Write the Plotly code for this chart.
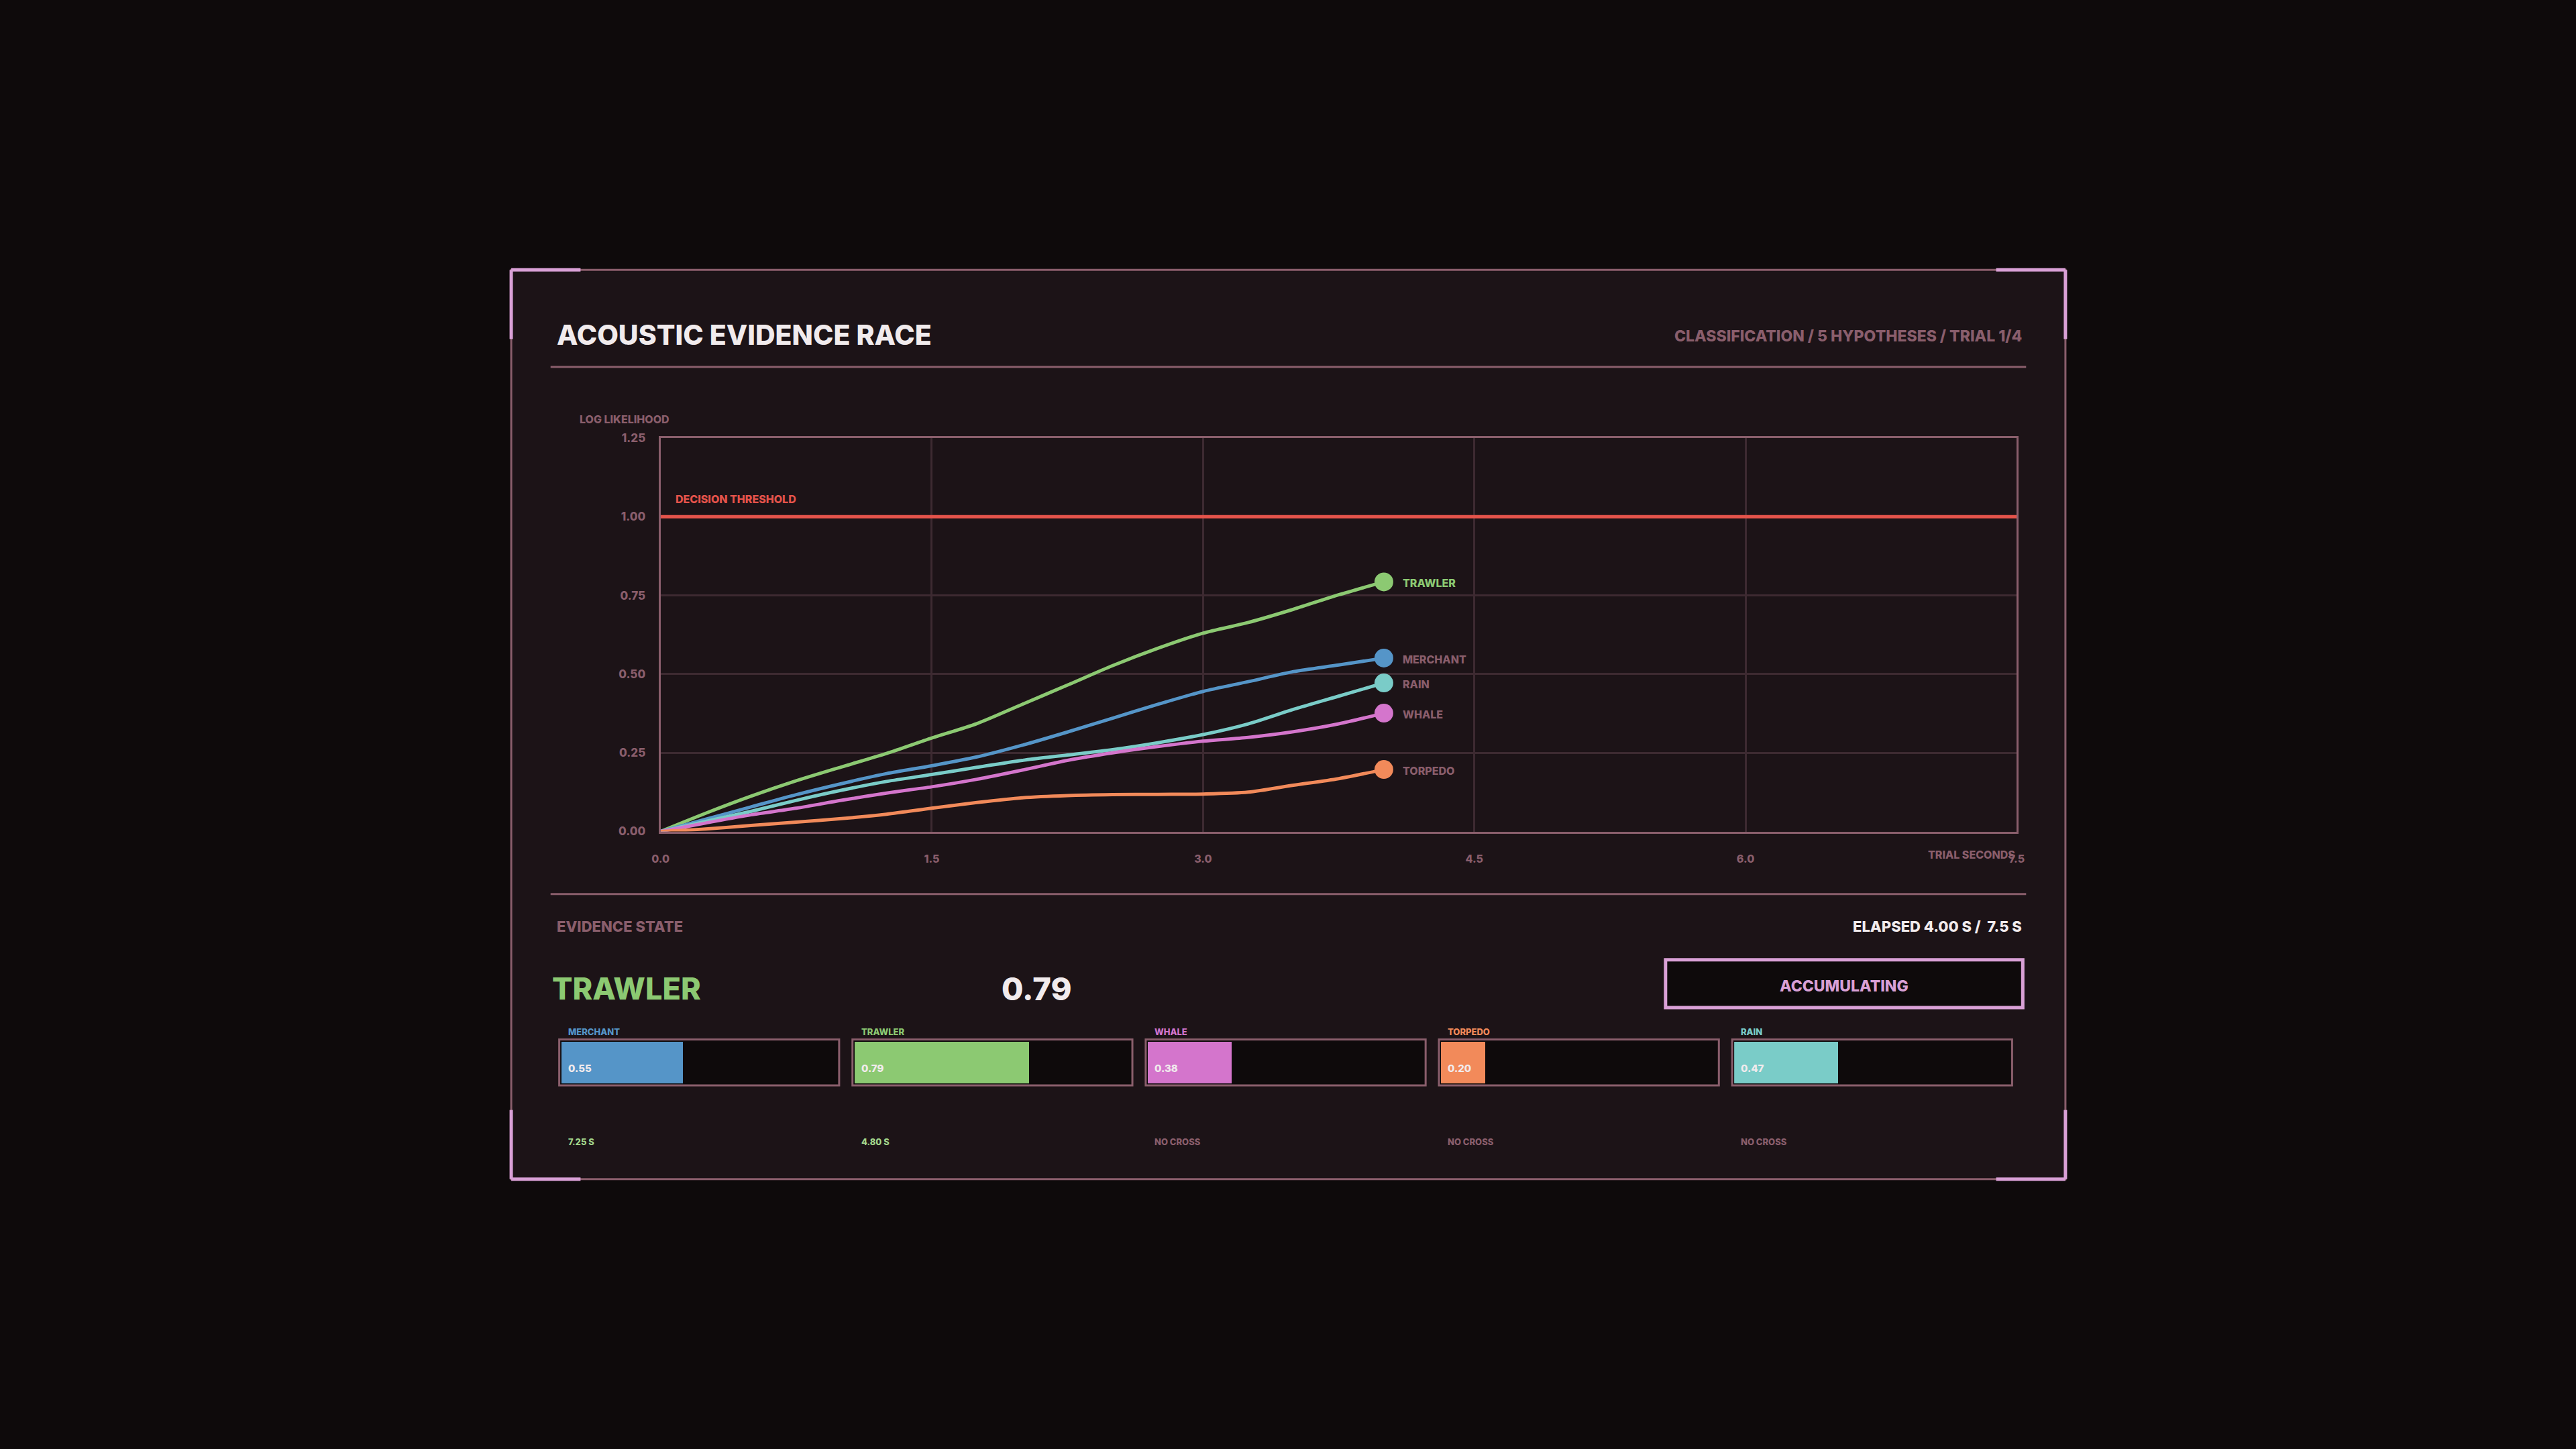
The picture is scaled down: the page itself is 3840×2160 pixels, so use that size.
import plotly.graph_objects as go

# ---------------- data ----------------
TIME = [0.0, 0.25, 0.5, 0.75, 1.0, 1.25, 1.5, 1.75, 2.0, 2.25, 2.5, 2.75, 3.0, 3.25, 3.5, 3.75, 4.0]
TRAWLER = [0, 0.058, 0.112, 0.161, 0.205, 0.248, 0.297, 0.343, 0.404, 0.465, 0.527, 0.582, 0.630, 0.664, 0.706, 0.752, 0.793]
MERCHANT = [0, 0.039, 0.078, 0.117, 0.152, 0.184, 0.209, 0.237, 0.274, 0.316, 0.360, 0.404, 0.445, 0.476, 0.508, 0.529, 0.551]
RAIN = [0, 0.032, 0.064, 0.099, 0.131, 0.159, 0.181, 0.204, 0.226, 0.243, 0.260, 0.282, 0.308, 0.342, 0.388, 0.430, 0.472]
WHALE = [0, 0.027, 0.053, 0.074, 0.099, 0.122, 0.142, 0.166, 0.195, 0.226, 0.250, 0.270, 0.287, 0.299, 0.317, 0.342, 0.376]
TORPEDO = [0, 0.008, 0.019, 0.030, 0.041, 0.055, 0.074, 0.092, 0.107, 0.114, 0.117, 0.118, 0.119, 0.125, 0.147, 0.168, 0.197]

SERIES_NAMES = ["TRAWLER", "MERCHANT", "RAIN", "WHALE", "TORPEDO"]
SERIES_VALUES = [TRAWLER, MERCHANT, RAIN, WHALE, TORPEDO]

THRESHOLD = 1.0
X_MAX = 7.5
Y_MAX = 1.25
X_TICKS = [0.0, 1.5, 3.0, 4.5, 6.0, 7.5]
Y_TICKS = [0.0, 0.25, 0.5, 0.75, 1.0, 1.25]

METER_NAMES = ["MERCHANT", "TRAWLER", "WHALE", "TORPEDO", "RAIN"]
METER_VALUES = [0.55, 0.79, 0.38, 0.20, 0.47]
METER_CROSS = ["7.25 S", "4.80 S", "NO CROSS", "NO CROSS", "NO CROSS"]

LEADER = "TRAWLER"
LEADER_VALUE = 0.79
ELAPSED = 4.00
TOTAL = 7.5
STATUS = "ACCUMULATING"
TITLE = "ACOUSTIC EVIDENCE RACE"
SUBTITLE = "CLASSIFICATION / 5 HYPOTHESES / TRIAL 1/4"

# ---------------- style ----------------
W, H = 3840, 2160
BG = "#0e0a0b"
PANEL = "#1c1317"
MAUVE = "#8a5e6c"
GRID = "#3d2a31"
PINK = "#d9a0d6"
WHITE = "#f1ebed"
RED = "#e5534b"
COLORS = {
    "TRAWLER": "#8cc972",
    "MERCHANT": "#5595c8",
    "RAIN": "#7accc8",
    "WHALE": "#d475cc",
    "TORPEDO": "#f28a5a",
}
FONT = "Inter"


def px(x):
    return x / W


def py(y):
    return 1 - y / H


# plot area in pixels
PL, PR, PT, PB = 978, 3013, 649, 1241

fig = go.Figure()

for name, vals in zip(SERIES_NAMES, SERIES_VALUES):
    fig.add_trace(go.Scatter(
        x=TIME, y=vals, mode="lines",
        line=dict(color=COLORS[name], width=5, shape="spline", smoothing=0.8),
        showlegend=False, hoverinfo="skip", xaxis="x", yaxis="y",
    ))
    fig.add_trace(go.Scatter(
        x=[TIME[-1]], y=[vals[-1]], mode="markers",
        marker=dict(color=COLORS[name], size=28),
        showlegend=False, hoverinfo="skip", xaxis="x", yaxis="y",
    ))

annotations = []
shapes = []

# end labels
for name, vals in zip(SERIES_NAMES, SERIES_VALUES):
    annotations.append(dict(
        x=TIME[-1], y=vals[-1], xref="x", yref="y", text=name, showarrow=False,
        xanchor="left", yanchor="middle", xshift=26, yshift=-2,
        font=dict(family=FONT, size=16, weight=800,
                  color=COLORS[name] if name == LEADER else MAUVE),
    ))

# threshold
shapes.append(dict(type="line", xref="x", yref="y", x0=0, x1=X_MAX, y0=THRESHOLD, y1=THRESHOLD,
                   line=dict(color=RED, width=5), layer="above"))
annotations.append(dict(x=0, y=THRESHOLD, xref="x", yref="y", text="DECISION THRESHOLD",
                        showarrow=False, xanchor="left", yanchor="middle", xshift=20, yshift=26,
                        font=dict(family=FONT, size=16, weight=800, color=RED)))

# panel
P_L, P_R, P_T, P_B = 754, 3086, 396, 1764
shapes.append(dict(type="rect", xref="paper", yref="paper", x0=px(P_L), x1=px(P_R), y0=py(P_B), y1=py(P_T),
                   fillcolor=PANEL, line=dict(color=MAUVE, width=3), layer="below"))
acc = 104
corner_lines = [
    (P_L, P_T, P_L + acc, P_T), (P_L, P_T, P_L, P_T + acc),
    (P_R - acc, P_T, P_R, P_T), (P_R, P_T, P_R, P_T + acc),
    (P_L, P_B, P_L + acc, P_B), (P_L, P_B - acc, P_L, P_B),
    (P_R - acc, P_B, P_R, P_B), (P_R, P_B - acc, P_R, P_B),
]
for x0, y0, x1, y1 in corner_lines:
    shapes.append(dict(type="line", xref="paper", yref="paper", x0=px(x0), y0=py(y0), x1=px(x1), y1=py(y1),
                       line=dict(color=PINK, width=5), layer="above"))

# separators
for yy in (542, 1335):
    shapes.append(dict(type="line", xref="paper", yref="paper", x0=px(813), x1=px(3027), y0=py(yy), y1=py(yy),
                       line=dict(color=MAUVE, width=3), layer="below"))

# header text
annotations.append(dict(x=px(820), y=py(494), xref="paper", yref="paper", text=TITLE, showarrow=False,
                        xanchor="left", yanchor="middle",
                        font=dict(family=FONT, size=41, weight=800, color=WHITE)))
annotations.append(dict(x=px(3023), y=py(496), xref="paper", yref="paper", text=SUBTITLE, showarrow=False,
                        xanchor="right", yanchor="middle",
                        font=dict(family=FONT, size=23, weight=800, color=MAUVE)))
annotations.append(dict(x=px(855), y=py(621), xref="paper", yref="paper", text="LOG LIKELIHOOD", showarrow=False,
                        xanchor="left", yanchor="middle",
                        font=dict(family=FONT, size=16, weight=800, color=MAUVE)))
annotations.append(dict(x=px(PR), y=py(1276), xref="paper", yref="paper", text="TRIAL SECONDS", showarrow=False,
                        xanchor="right", yanchor="middle",
                        font=dict(family=FONT, size=16, weight=800, color=MAUVE)))

# evidence state section
annotations.append(dict(x=px(820), y=py(1384), xref="paper", yref="paper", text="EVIDENCE STATE", showarrow=False,
                        xanchor="left", yanchor="middle",
                        font=dict(family=FONT, size=22, weight=800, color=MAUVE)))
annotations.append(dict(x=px(3023), y=py(1384), xref="paper", yref="paper",
                        text=f"ELAPSED {ELAPSED:.2f} S /\u00a0\u00a0{TOTAL} S", showarrow=False,
                        xanchor="right", yanchor="middle",
                        font=dict(family=FONT, size=22, weight=800, color=WHITE)))
annotations.append(dict(x=px(813), y=py(1477), xref="paper", yref="paper", text=LEADER, showarrow=False,
                        xanchor="left", yanchor="middle",
                        font=dict(family=FONT, size=45, weight=800, color=COLORS[LEADER])))
annotations.append(dict(x=px(1488), y=py(1477), xref="paper", yref="paper", text=f"{LEADER_VALUE:.2f}",
                        showarrow=False, xanchor="left", yanchor="middle",
                        font=dict(family=FONT, size=47, weight=800, color=WHITE)))
shapes.append(dict(type="rect", xref="paper", yref="paper", x0=px(2486), x1=px(3022), y0=py(1506), y1=py(1434),
                   fillcolor=BG, line=dict(color=PINK, width=5), layer="below"))
annotations.append(dict(x=px(2754), y=py(1474), xref="paper", yref="paper", text=STATUS, showarrow=False,
                        xanchor="center", yanchor="middle",
                        font=dict(family=FONT, size=23, weight=800, color=PINK)))

# meters
layout_axes = {}
BOX_W, PITCH, BOX_L0 = 420, 440, 826
BOX_T, BOX_B = 1554, 1623
for i, (name, val, cross) in enumerate(zip(METER_NAMES, METER_VALUES, METER_CROSS)):
    bl = BOX_L0 + i * PITCH
    br = bl + BOX_W
    shapes.append(dict(type="rect", xref="paper", yref="paper", x0=px(bl), x1=px(br), y0=py(BOX_B), y1=py(BOX_T),
                       fillcolor=BG, line=dict(color=MAUVE, width=3), layer="below"))
    n = i + 2
    xa, ya = f"x{n}", f"y{n}"
    layout_axes[f"xaxis{n}"] = dict(domain=[px(bl + 3), px(br - 3)], range=[0, Y_MAX], visible=False,
                                    fixedrange=True, anchor=ya)
    layout_axes[f"yaxis{n}"] = dict(domain=[py(BOX_B - 3), py(BOX_T + 3)], range=[-0.5, 0.5], visible=False,
                                    fixedrange=True, anchor=xa)
    fig.add_trace(go.Bar(x=[val], y=[0], orientation="h", width=1, base=0,
                         marker=dict(color=COLORS[name], line=dict(width=0)),
                         showlegend=False, hoverinfo="skip", xaxis=xa, yaxis=ya))
    annotations.append(dict(x=px(bl + 11), y=py(1542), xref="paper", yref="paper", text=name, showarrow=False,
                            xanchor="left", yanchor="middle",
                            font=dict(family=FONT, size=13, weight=800, color=COLORS[name])))
    annotations.append(dict(x=px(bl + 11), y=py(1597), xref="paper", yref="paper", text=f"{val:.2f}",
                            showarrow=False, xanchor="left", yanchor="middle",
                            font=dict(family=FONT, size=15, weight=800, color=WHITE)))
    annotations.append(dict(x=px(bl + 11), y=py(1708), xref="paper", yref="paper", text=cross, showarrow=False,
                            xanchor="left", yanchor="middle",
                            font=dict(family=FONT, size=13, weight=800,
                                      color="#a3d68b" if cross != "NO CROSS" else MAUVE)))

fig.update_layout(
    width=W, height=H, margin=dict(l=0, r=0, t=0, b=0),
    paper_bgcolor=BG, plot_bgcolor="rgba(0,0,0,0)",
    font=dict(family=FONT, color=MAUVE),
    xaxis=dict(domain=[px(PL), px(PR)], range=[0, X_MAX], tickvals=X_TICKS, tickformat=".1f",
               showgrid=True, gridcolor=GRID, gridwidth=3, zeroline=False,
               showline=True, linecolor=MAUVE, linewidth=3, mirror=True,
               ticks="outside", ticklen=24, tickcolor="rgba(0,0,0,0)",
               tickfont=dict(family=FONT, size=16, weight=800, color=MAUVE), anchor="y", fixedrange=True),
    yaxis=dict(domain=[py(PB), py(PT)], range=[0, Y_MAX], tickvals=Y_TICKS, tickformat=".2f",
               showgrid=True, gridcolor=GRID, gridwidth=3, zeroline=False,
               showline=True, linecolor=MAUVE, linewidth=3, mirror=True,
               ticks="outside", ticklen=16, tickcolor="rgba(0,0,0,0)",
               tickfont=dict(family=FONT, size=17, weight=800, color=MAUVE), anchor="x", fixedrange=True),
    shapes=shapes, annotations=annotations, bargap=0,
    **layout_axes,
)

fig.write_html(
    "out.html",
    config={"displayModeBar": False},
    post_script="document.body.style.margin='0';document.body.style.background='#0e0a0b';"
                "document.documentElement.style.overflow='hidden';",
)
